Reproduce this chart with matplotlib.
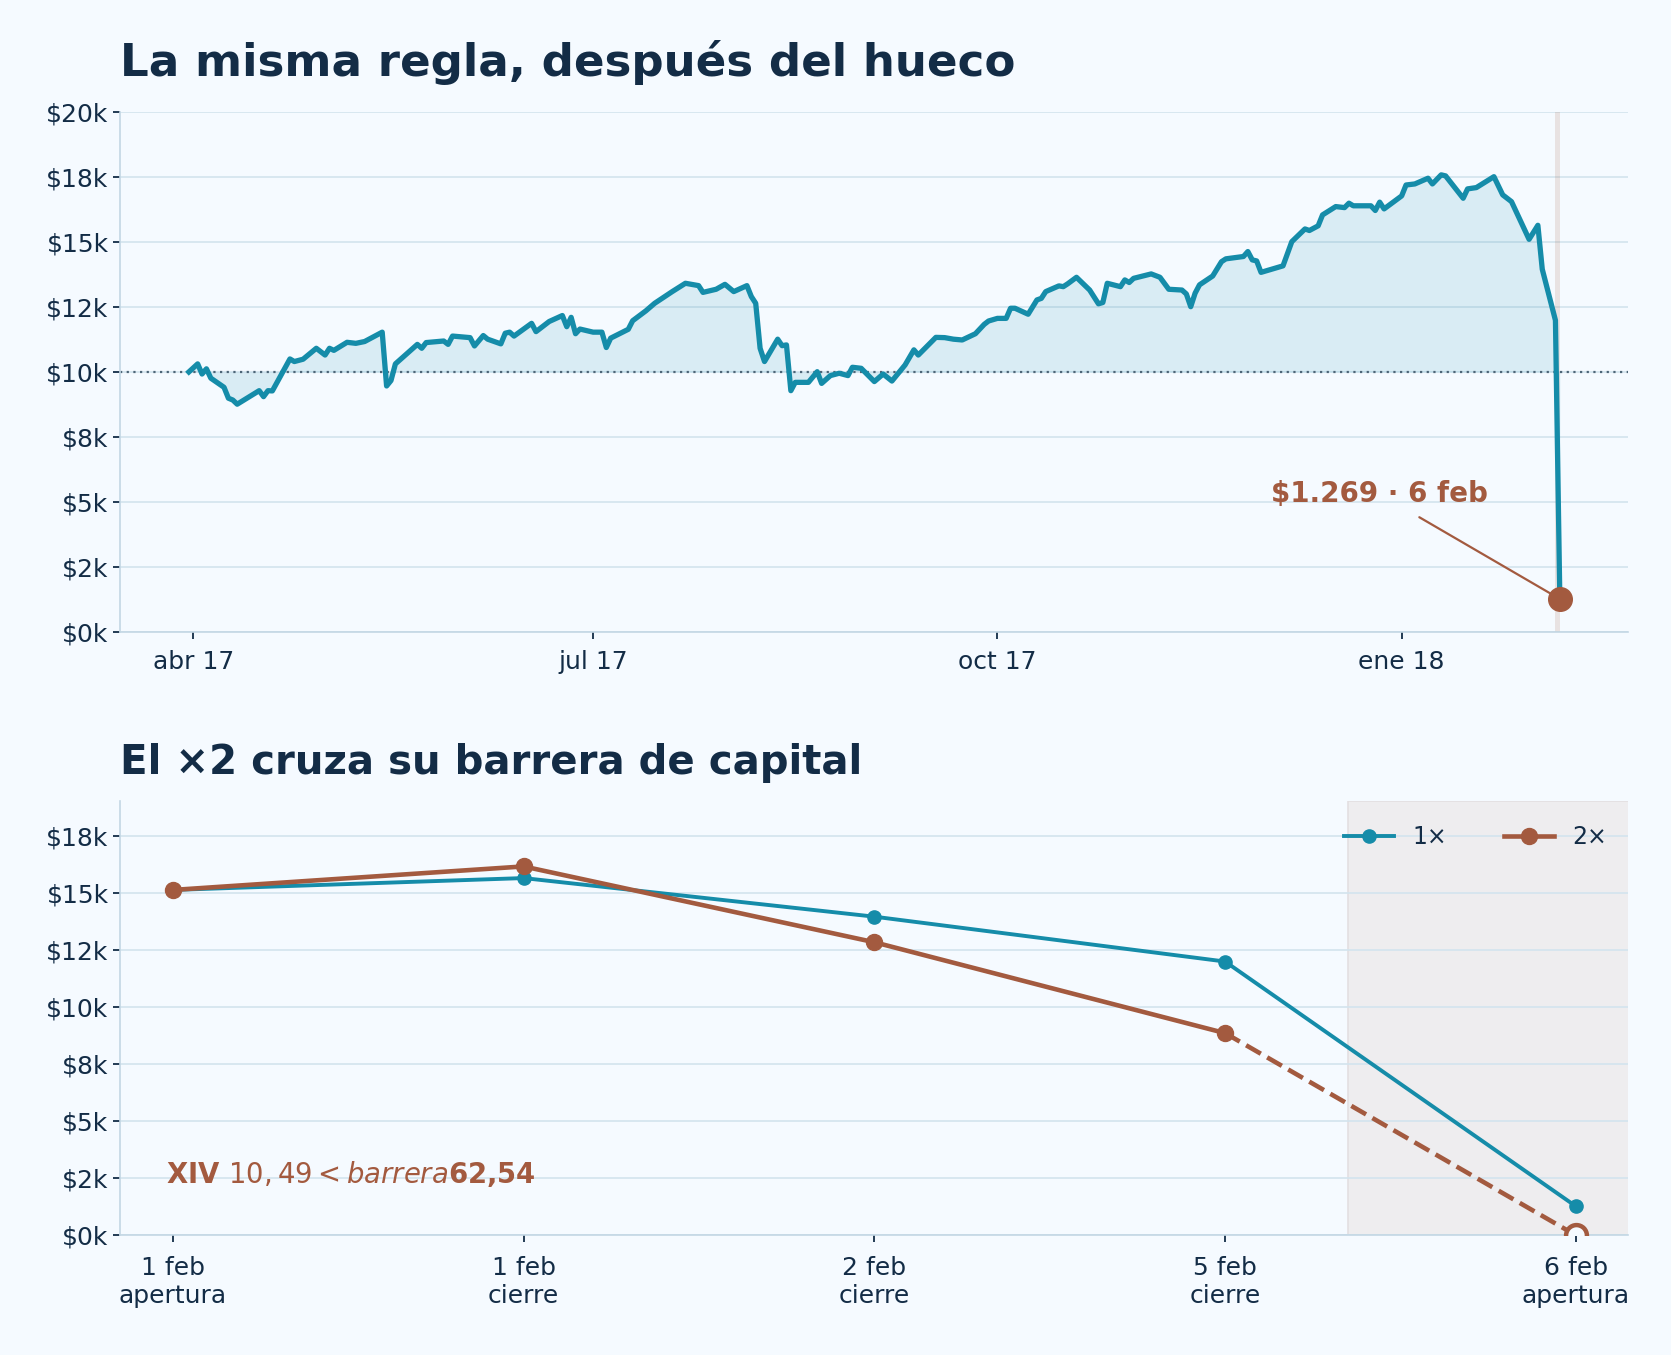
import matplotlib
matplotlib.use('Agg')
import matplotlib.pyplot as plt
import pandas as pd

BG = '#f5faff'
INK = '#132c46'
TEAL = '#158ca9'
BROWN = '#a35a3f'
GRID = '#d3e4ee'
SPINE = '#c3d7e4'

# equity curve of the 1x rule
equity_dates = [
    '2017-03-31', '2017-04-02', '2017-04-03', '2017-04-04', '2017-04-05', '2017-04-08',
    '2017-04-09', '2017-04-10', '2017-04-11', '2017-04-16', '2017-04-17', '2017-04-18',
    '2017-04-19', '2017-04-23', '2017-04-24', '2017-04-26', '2017-04-29', '2017-05-01',
    '2017-05-02', '2017-05-03', '2017-05-06', '2017-05-08', '2017-05-10', '2017-05-14',
    '2017-05-15', '2017-05-16', '2017-05-17', '2017-05-20', '2017-05-22', '2017-05-23',
    '2017-05-24', '2017-05-28', '2017-05-29', '2017-05-30', '2017-06-03', '2017-06-04',
    '2017-06-06', '2017-06-07', '2017-06-10', '2017-06-11', '2017-06-12', '2017-06-13',
    '2017-06-17', '2017-06-18', '2017-06-21', '2017-06-24', '2017-06-25', '2017-06-26',
    '2017-06-27', '2017-06-28', '2017-07-01', '2017-07-03', '2017-07-04', '2017-07-05',
    '2017-07-09', '2017-07-10', '2017-07-13', '2017-07-15', '2017-07-19', '2017-07-22',
    '2017-07-25', '2017-07-26', '2017-07-29', '2017-07-31', '2017-08-02', '2017-08-05',
    '2017-08-06', '2017-08-07', '2017-08-08', '2017-08-09', '2017-08-12', '2017-08-13',
    '2017-08-14', '2017-08-15', '2017-08-16', '2017-08-19', '2017-08-21', '2017-08-22',
    '2017-08-24', '2017-08-26', '2017-08-28', '2017-08-29', '2017-08-31', '2017-09-03',
    '2017-09-05', '2017-09-07', '2017-09-10', '2017-09-12', '2017-09-13', '2017-09-17',
    '2017-09-19', '2017-09-21', '2017-09-23', '2017-09-26', '2017-09-28', '2017-09-29',
    '2017-10-01', '2017-10-03', '2017-10-04', '2017-10-05', '2017-10-08', '2017-10-10',
    '2017-10-11', '2017-10-12', '2017-10-15', '2017-10-16', '2017-10-17', '2017-10-19',
    '2017-10-22', '2017-10-24', '2017-10-25', '2017-10-26', '2017-10-29', '2017-10-30',
    '2017-10-31', '2017-11-01', '2017-11-05', '2017-11-07', '2017-11-09', '2017-11-12',
    '2017-11-13', '2017-11-14', '2017-11-15', '2017-11-16', '2017-11-19', '2017-11-21',
    '2017-11-22', '2017-11-26', '2017-11-27', '2017-11-28', '2017-11-29', '2017-11-30',
    '2017-12-05', '2017-12-07', '2017-12-10', '2017-12-11', '2017-12-13', '2017-12-14',
    '2017-12-17', '2017-12-19', '2017-12-20', '2017-12-21', '2017-12-25', '2017-12-26',
    '2017-12-27', '2017-12-28', '2018-01-01', '2018-01-02', '2018-01-04', '2018-01-07',
    '2018-01-08', '2018-01-10', '2018-01-11', '2018-01-15', '2018-01-16', '2018-01-18',
    '2018-01-22', '2018-01-24', '2018-01-26', '2018-01-30', '2018-02-01', '2018-02-02',
    '2018-02-05', '2018-02-06',
]
equity_values = [
    10000, 10310, 9920, 10120, 9760, 9410,
    8990, 8920, 8760, 9280, 9050, 9280,
    9270, 10500, 10400, 10490, 10910, 10650,
    10910, 10830, 11140, 11100, 11170, 11530,
    9460, 9670, 10310, 10760, 11060, 10910,
    11130, 11190, 11060, 11380, 11320, 11000,
    11400, 11260, 11080, 11490, 11530, 11380,
    11870, 11550, 11940, 12170, 11740, 12100,
    11470, 11650, 11530, 11530, 10940, 11300,
    11640, 11970, 12350, 12640, 13090, 13410,
    13320, 13060, 13180, 13370, 13090, 13320,
    12900, 12640, 10910, 10400, 11260, 11010,
    11040, 9280, 9600, 9600, 10010, 9560,
    9860, 9950, 9860, 10180, 10140, 9630,
    9920, 9650, 10270, 10850, 10650, 11330,
    11320, 11260, 11230, 11470, 11830, 11960,
    12060, 12060, 12450, 12450, 12220, 12770,
    12830, 13090, 13310, 13280, 13390, 13640,
    13150, 12620, 12670, 13410, 13280, 13540,
    13440, 13600, 13770, 13640, 13180, 13150,
    13000, 12510, 13030, 13350, 13690, 14240,
    14350, 14440, 14630, 14310, 14270, 13830,
    14080, 15010, 15500, 15440, 15620, 16040,
    16360, 16320, 16490, 16390, 16390, 16210,
    16530, 16270, 16770, 17190, 17230, 17450,
    17230, 17580, 17540, 16680, 17040, 17090,
    17510, 16810, 16550, 15100, 15640, 13950,
    11985, 1269,
]
start_capital = 10000
gap_day = ['2018-02-05', '2018-02-06']

month_ticks = ['2017-04-01', '2017-07-01', '2017-10-01', '2018-01-01']
month_labels = ['abr 17', 'jul 17', 'oct 17', 'ene 18']

# last sessions, 1x vs 2x
step_labels = ['1 feb\napertura', '1 feb\ncierre', '2 feb\ncierre', '5 feb\ncierre', '6 feb\napertura']
lev1_values = [15120, 15640, 13950, 11985, 1269]
lev2_values = [15120, 16150, 12830, 8850, 0]


def money(v, pos=None):
    return f'${v / 1000:.0f}k'


def style_axis(ax):
    ax.set_facecolor(BG)
    for side in ('top', 'right'):
        ax.spines[side].set_visible(False)
    for side in ('left', 'bottom'):
        ax.spines[side].set_color(SPINE)
        ax.spines[side].set_linewidth(1.2)
    ax.grid(axis='y', color=GRID, lw=1.2)
    ax.set_axisbelow(True)
    ax.tick_params(colors=INK, labelsize=18, length=5, width=1.3)
    ax.yaxis.set_major_formatter(money)


fig = plt.figure(figsize=(16.71, 13.55), dpi=100, facecolor=BG)
ax1 = fig.add_axes([0.072, 0.5336, 0.9025, 0.3838])
ax2 = fig.add_axes([0.072, 0.0884, 0.9025, 0.3202])

# --- top: equity curve ---
style_axis(ax1)
dates = pd.to_datetime(equity_dates)
ax1.fill_between(dates, equity_values, start_capital, color=TEAL, alpha=0.12, lw=0)
ax1.plot(dates, equity_values, color=TEAL, lw=3.8, zorder=3)
ax1.axhline(start_capital, color='#4d6577', lw=1.6, ls=(0, (1, 2)), zorder=2)
ax1.axvspan(pd.Timestamp(gap_day[0]), pd.Timestamp(gap_day[1]), color=BROWN, alpha=0.15, lw=0)
ax1.plot([dates[-1]], [equity_values[-1]], 'o', color=BROWN, ms=17, zorder=5)
ax1.annotate(f'${equity_values[-1]:,}'.replace(',', '.') + ' · 6 feb',
             xy=(dates[-1], equity_values[-1]),
             xytext=(pd.Timestamp('2017-12-27'), 5300),
             ha='center', va='center', fontsize=20, fontweight='bold', color=BROWN,
             arrowprops=dict(arrowstyle='-', color=BROWN, lw=1.6, shrinkA=9, shrinkB=0))
ax1.set_ylim(0, 20000)
ax1.set_yticks(range(0, 20001, 2500))
ax1.set_xticks(pd.to_datetime(month_ticks))
ax1.set_xticklabels(month_labels)
ax1.tick_params(axis='x', pad=8)
ax1.set_title('La misma regla, después del hueco', loc='left', fontsize=32.5,
              fontweight='bold', color=INK, pad=26)

# --- bottom: 1x vs 2x in the last sessions ---
style_axis(ax2)
x = list(range(len(step_labels)))
ax2.axvspan(3.35, 4.3, facecolor='#eeedef', edgecolor='#e3dfe1', lw=1.2, zorder=0.2)
ax2.plot(x, lev1_values, '-o', color=TEAL, lw=2.8, ms=9.5, label='1×', zorder=3)
ax2.plot(x[:4], lev2_values[:4], '-o', color=BROWN, lw=3.3, ms=11.5, label='2×', zorder=3)
ax2.plot(x[3:], lev2_values[3:], '--', color=BROWN, lw=3.3, zorder=3)
ax2.plot([x[4]], [lev2_values[4]], 'o', ms=15, mfc=BG, mec=BROWN, mew=3.2, zorder=4)
ax2.text(-0.02, 2700, 'XIV $10,49 < barrera $62,54', ha='left', va='center',
         fontsize=19.8, fontweight='bold', color=BROWN)
ax2.set_xlim(-0.15, 4.15)
ax2.set_ylim(0, 19000)
ax2.set_yticks(range(0, 17501, 2500))
ax2.set_xticks(x)
ax2.set_xticklabels(step_labels)
ax2.tick_params(axis='x', pad=10)
ax2.legend(loc='upper right', ncol=2, frameon=False, fontsize=17, labelcolor=INK,
           handlelength=2.1, columnspacing=2.4, bbox_to_anchor=(1.0, 0.995))
ax2.set_title('El ×2 cruza su barrera de capital', loc='left', fontsize=29,
              fontweight='bold', color=INK, pad=20)

fig.savefig('out.png', dpi=100, facecolor=BG)
